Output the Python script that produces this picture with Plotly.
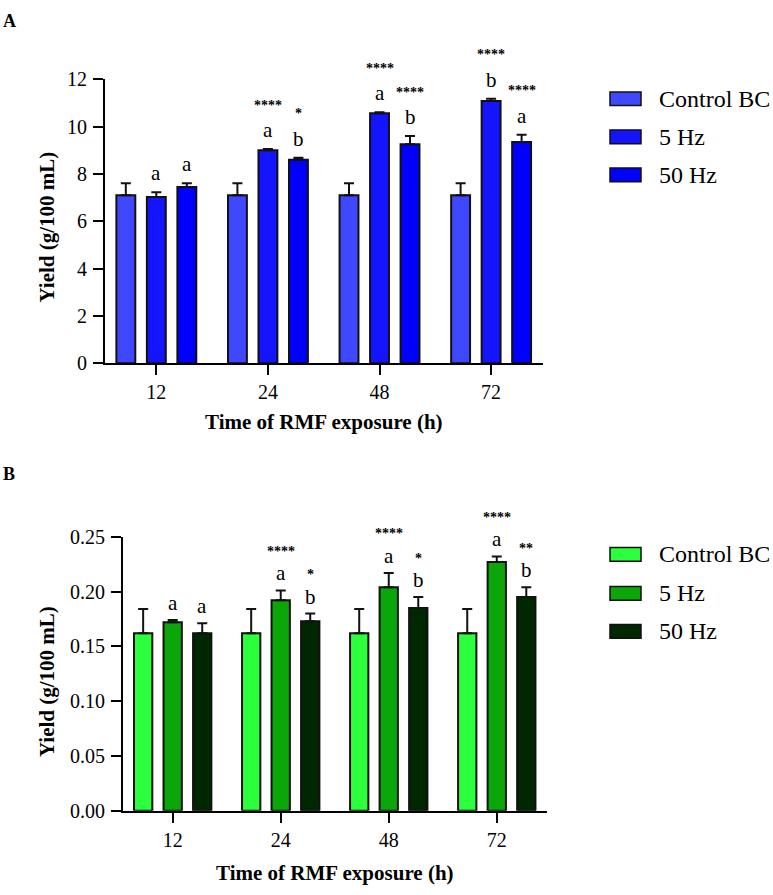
import plotly.graph_objects as go

# ---------------- data ----------------
times = ["12", "24", "48", "72"]
series = ["Control BC", "5 Hz", "50 Hz"]

a_control = [7.10, 7.10, 7.10, 7.10]
a_control_err = [0.50, 0.50, 0.50, 0.50]
a_5hz = [7.02, 9.00, 10.56, 11.08]
a_5hz_err = [0.20, 0.05, 0.05, 0.10]
a_50hz = [7.45, 8.60, 9.25, 9.35]
a_50hz_err = [0.15, 0.08, 0.35, 0.30]

b_control = [0.162, 0.162, 0.162, 0.162]
b_control_err = [0.022, 0.022, 0.022, 0.022]
b_5hz = [0.172, 0.192, 0.204, 0.227]
b_5hz_err = [0.002, 0.009, 0.013, 0.005]
b_50hz = [0.162, 0.173, 0.185, 0.195]
b_50hz_err = [0.009, 0.007, 0.010, 0.009]

a_letters_5hz = ["a", "a", "a", "b"]
a_letters_50hz = ["a", "b", "b", "a"]
a_stars_5hz = ["", "****", "****", "****"]
a_stars_50hz = ["", "*", "****", "****"]

b_letters_5hz = ["a", "a", "a", "a"]
b_letters_50hz = ["a", "b", "b", "b"]
b_stars_5hz = ["", "****", "****", "****"]
b_stars_50hz = ["", "*", "*", "**"]

a_ticks = [0, 2, 4, 6, 8, 10, 12]
b_ticks = [0.00, 0.05, 0.10, 0.15, 0.20, 0.25]

colors_a = ["#3F48FF", "#1414FF", "#0000FF"]
colors_b = ["#2CFF3C", "#0AA60A", "#002800"]

# ---------------- style ----------------
W, H = 773, 895
FONT = "Liberation Serif"
BARGAP = 0.18
BARGROUPGAP = 0.38
slot = (1 - BARGAP) / 3
offsets = [-slot, 0.0, slot]


def px_x(p):
    return p / W


def px_y(p):
    return 1 - p / H


fig = go.Figure()

panels = [
    dict(xa="x", ya="y", vals=[a_control, a_5hz, a_50hz],
         errs=[a_control_err, a_5hz_err, a_50hz_err], colors=colors_a,
         letters=[None, a_letters_5hz, a_letters_50hz],
         stars=[None, a_stars_5hz, a_stars_50hz], lshift=19, sshift=44),
    dict(xa="x2", ya="y2", vals=[b_control, b_5hz, b_50hz],
         errs=[b_control_err, b_5hz_err, b_50hz_err], colors=colors_b,
         letters=[None, b_letters_5hz, b_letters_50hz],
         stars=[None, b_stars_5hz, b_stars_50hz], lshift=17, sshift=39),
]

annotations = []
for p in panels:
    for k in range(3):
        fig.add_trace(go.Bar(
            x=times, y=p["vals"][k], name=series[k], xaxis=p["xa"], yaxis=p["ya"],
            marker=dict(color=p["colors"][k], line=dict(color="#111111", width=2)),
            error_y=dict(type="data", array=p["errs"][k],
                         arrayminus=[0] * len(p["errs"][k]), symmetric=False,
                         color="#111111", thickness=2, width=5),
            showlegend=False,
        ))
        if p["letters"][k] is None:
            continue
        for i in range(len(times)):
            top = p["vals"][k][i] + p["errs"][k][i]
            annotations.append(dict(
                x=i + offsets[k], y=top, xref=p["xa"], yref=p["ya"],
                text=p["letters"][k][i], showarrow=False, xanchor="center",
                yanchor="middle", yshift=p["lshift"],
                font=dict(family=FONT, size=21, color="black")))
            if p["stars"][k][i]:
                annotations.append(dict(
                    x=i + offsets[k], y=top, xref=p["xa"], yref=p["ya"],
                    text="<b>" + p["stars"][k][i] + "</b>", showarrow=False,
                    xanchor="center", yanchor="middle", yshift=p["sshift"],
                    font=dict(family=FONT, size=14, color="black")))

# axis titles & panel labels
title_font = dict(family=FONT, size=21, color="black")


def paper_text(x, y, text, font, xanchor="center", angle=0):
    return dict(x=px_x(x), y=px_y(y), xref="paper", yref="paper", showarrow=False,
                xanchor=xanchor, yanchor="middle", text=text, textangle=angle, font=font)


annotations += [
    paper_text(324, 421, "<b>Time of RMF exposure (h)</b>", title_font),
    paper_text(335, 884, "<b>Time of RMF exposure (h)</b>", title_font),
    paper_text(47, 222, "<b>Yield (g/100 mL)</b>", title_font, angle=-90),
    paper_text(47, 688, "<b>Yield (g/100 mL)</b>", title_font, angle=-90),
    paper_text(1, 10, "<b>A</b>", dict(family=FONT, size=18, color="black"), xanchor="left"),
    paper_text(1, 475, "<b>B</b>", dict(family=FONT, size=18, color="black"), xanchor="left"),
]

# custom legends (wide swatches like the original)
shapes = []
for colors, ys in [(colors_a, [90, 129, 168]), (colors_b, [557, 597, 636])]:
    for k in range(3):
        shapes.append(dict(type="rect", xref="paper", yref="paper",
                           x0=px_x(610), x1=px_x(641), y0=px_y(ys[k] + 7), y1=px_y(ys[k] - 7),
                           fillcolor=colors[k], line=dict(color="#111111", width=1.5)))
        annotations.append(paper_text(657, ys[k], series[k],
                                      dict(family=FONT, size=24, color="black"),
                                      xanchor="left"))

tick_font = dict(family=FONT, size=20, color="black")
common_x = dict(type="category", range=[-0.46, 3.465], showline=True, linewidth=2,
                linecolor="black", ticks="outside", ticklen=10, tickwidth=2,
                tickcolor="black", showgrid=False, zeroline=False, tickfont=tick_font)
common_y = dict(showline=True, linewidth=2, linecolor="black", ticks="outside",
                ticklen=10, tickwidth=2, tickcolor="black", showgrid=False,
                zeroline=False, tickfont=tick_font, ticklabelstandoff=2)

fig.update_layout(
    width=W, height=H, margin=dict(l=0, r=0, t=0, b=0),
    paper_bgcolor="white", plot_bgcolor="white",
    barmode="group", bargap=BARGAP, bargroupgap=BARGROUPGAP,
    xaxis=dict(domain=[px_x(105), px_x(543)], anchor="y", **common_x),
    yaxis=dict(domain=[px_y(361), px_y(70)], anchor="x", range=[0, 12],
               tickvals=a_ticks, **common_y),
    xaxis2=dict(domain=[px_x(123), px_x(547)], anchor="y2", **common_x),
    yaxis2=dict(domain=[px_y(820), px_y(539)], anchor="x2", range=[0, 0.25],
                tickvals=b_ticks, tickformat=".2f", **common_y),
    annotations=annotations, shapes=shapes,
)

fig.write_html("out.html")
